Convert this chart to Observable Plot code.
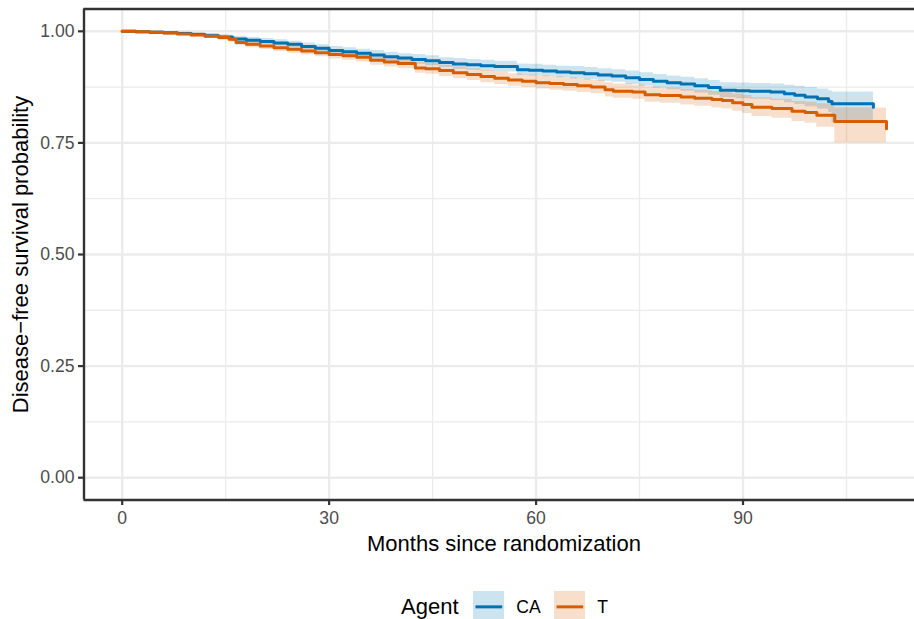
<!DOCTYPE html>
<html><head><meta charset="utf-8">
<script src="https://cdn.jsdelivr.net/npm/d3@7"></script>
<script src="https://cdn.jsdelivr.net/npm/@observablehq/plot@0.6"></script>
<style>
body{margin:0;background:#fff;overflow:hidden}
#wrap{position:relative;width:914px;height:619px;overflow:hidden;background:#fff;font-family:"Liberation Sans",Arial,sans-serif}
#legend{position:absolute;left:401px;top:591px;display:flex;align-items:center;height:32px;white-space:nowrap}
#legend .ttl{font-size:22px;color:#000;margin-right:14px}
#legend .lab{font-size:17.6px;color:#000;margin-left:12px;margin-right:13px}
#legend svg{display:block}
</style></head><body><div id="wrap"><div id="chart"></div><div id="legend"></div></div>
<script>
const agents = ["CA", "T"];
const agentColors = ["#0072B2", "#D55E00"];
const xTicks = [0, 30, 60, 90];
const xMinor = [15, 45, 75, 105];
const yTicks = [0, 0.25, 0.5, 0.75, 1];
const yMinor = [0.125, 0.375, 0.625, 0.875];

// CA group (Kaplan-Meier steps)
const caTime  = [0,2,4,6,8,10,12,14,16,18,20,22,24,26,28,30,32,34,36,38,40,42,44,46,48,50,52,54,57.3,59,61,63,65,67,69,71,73,75,77,79,81,83,85,86.7,89,91,94,96,97.5,99,100.8,102.4,102.9,108.9];
const caSurv  = [1.000,0.999,0.998,0.997,0.995,0.993,0.990,0.987,0.983,0.980,0.977,0.974,0.971,0.966,0.962,0.957,0.954,0.951,0.947,0.943,0.940,0.937,0.934,0.930,0.927,0.925,0.923,0.921,0.914,0.913,0.911,0.909,0.907,0.905,0.902,0.900,0.896,0.892,0.888,0.885,0.882,0.878,0.874,0.868,0.867,0.866,0.864,0.860,0.857,0.853,0.849,0.843,0.838,0.830];
const caLower = [1.000,0.998,0.996,0.994,0.992,0.989,0.986,0.982,0.978,0.974,0.971,0.967,0.964,0.958,0.954,0.949,0.945,0.942,0.937,0.933,0.930,0.926,0.923,0.919,0.915,0.913,0.911,0.909,0.901,0.900,0.898,0.896,0.893,0.891,0.888,0.886,0.881,0.877,0.873,0.869,0.866,0.862,0.857,0.851,0.849,0.848,0.845,0.840,0.836,0.831,0.826,0.818,0.795,0.795];
const caUpper = [1.000,1.000,1.000,0.999,0.998,0.997,0.995,0.992,0.989,0.986,0.984,0.981,0.978,0.974,0.970,0.966,0.963,0.960,0.957,0.953,0.950,0.948,0.945,0.941,0.939,0.937,0.935,0.933,0.927,0.926,0.924,0.922,0.921,0.919,0.916,0.914,0.911,0.907,0.903,0.900,0.897,0.894,0.890,0.885,0.884,0.883,0.882,0.879,0.877,0.874,0.871,0.867,0.864,0.864];

// T group
const tTime  = [0,2,4,6,8,10,12,14,15.5,16.5,18,20,22,24,26,28,30,32,34,36,38,40,42.5,44,46,48,50,52,54,56,58,60,62,64,66,68,70,71.2,74,75.8,78,81,83,85.5,87,88.5,90,91.3,94.2,97.1,99,100.7,103.3,110.8];
const tSurv  = [1.000,0.999,0.998,0.996,0.994,0.992,0.989,0.986,0.982,0.975,0.971,0.967,0.963,0.960,0.956,0.952,0.948,0.945,0.942,0.935,0.931,0.928,0.918,0.916,0.912,0.907,0.903,0.899,0.895,0.891,0.888,0.885,0.883,0.881,0.878,0.875,0.869,0.866,0.864,0.858,0.856,0.853,0.850,0.847,0.845,0.840,0.836,0.830,0.827,0.821,0.818,0.812,0.798,0.782];
const tLower = [1.000,0.998,0.996,0.993,0.990,0.988,0.984,0.980,0.976,0.968,0.963,0.959,0.955,0.951,0.947,0.943,0.938,0.935,0.931,0.924,0.920,0.916,0.906,0.904,0.899,0.894,0.890,0.885,0.881,0.877,0.874,0.871,0.868,0.866,0.863,0.860,0.853,0.850,0.848,0.841,0.839,0.835,0.832,0.828,0.826,0.821,0.816,0.809,0.805,0.798,0.794,0.785,0.750,0.736];
const tUpper = [1.000,1.000,1.000,0.999,0.998,0.996,0.994,0.992,0.988,0.982,0.978,0.975,0.971,0.969,0.965,0.962,0.958,0.955,0.952,0.946,0.942,0.939,0.930,0.928,0.924,0.920,0.916,0.912,0.909,0.905,0.902,0.900,0.898,0.896,0.893,0.890,0.885,0.882,0.880,0.875,0.873,0.870,0.868,0.865,0.863,0.859,0.856,0.851,0.848,0.843,0.841,0.838,0.828,0.828];

const rows = [];
caTime.forEach((t, i) => rows.push({agent: "CA", time: t, surv: caSurv[i], lower: caLower[i], upper: caUpper[i]}));
tTime.forEach((t, i) => rows.push({agent: "T", time: t, surv: tSurv[i], lower: tLower[i], upper: tUpper[i]}));

const xDomain = [-5.535, 116.235];
const yDomain = [-0.05, 1.05];
const font = '"Liberation Sans", Arial, sans-serif';

const chart = Plot.plot({
  width: 914,
  height: 586,
  marginLeft: 83.5,
  marginRight: -9.5,
  marginTop: 8.5,
  marginBottom: 86.5,
  style: {fontFamily: font, fontSize: "17.6px", background: "white", overflow: "hidden"},
  x: {domain: xDomain},
  y: {domain: yDomain},
  color: {domain: agents, range: agentColors},
  marks: [
    Plot.gridX(xMinor, {stroke: "#EBEBEB", strokeOpacity: 1, strokeWidth: 1.3}),
    Plot.gridY(yMinor, {stroke: "#EBEBEB", strokeOpacity: 1, strokeWidth: 1.3}),
    Plot.gridX(xTicks, {stroke: "#EBEBEB", strokeOpacity: 1, strokeWidth: 2.4}),
    Plot.gridY(yTicks, {stroke: "#EBEBEB", strokeOpacity: 1, strokeWidth: 2.4}),
    Plot.areaY(rows, {x: "time", y1: "lower", y2: "upper", z: "agent", fill: "agent", fillOpacity: 0.2, curve: "step-after"}),
    Plot.line(rows, {x: "time", y: "surv", z: "agent", stroke: "agent", strokeWidth: 3, curve: "step-after"}),
    Plot.ruleX([xDomain[0]], {stroke: "#333333", strokeWidth: 2.4}),
    Plot.ruleY(yDomain, {stroke: "#333333", strokeWidth: 2.4}),
    Plot.axisX(xTicks, {tickSize: 5.5, tickPadding: 6, stroke: "#333333", strokeWidth: 2.2, fill: "#4D4D4D", fontSize: 17.6, label: null}),
    Plot.axisY(yTicks, {tickSize: 5.5, tickPadding: 4, stroke: "#333333", strokeWidth: 2.2, fill: "#4D4D4D", fontSize: 17.6, tickFormat: d3.format(".2f"), label: null}),
    Plot.text(["Months since randomization"], {frameAnchor: "bottom", dy: 43.5, lineAnchor: "middle", textAnchor: "middle", fontSize: 22, fill: "#000"}),
    Plot.text(["Disease\u2212free survival probability"], {frameAnchor: "left", dx: -63.5, rotate: -90, textAnchor: "middle", lineAnchor: "middle", fontSize: 22, fill: "#000"})
  ]
});
document.getElementById("chart").appendChild(chart);

// legend below the plot
const legend = document.getElementById("legend");
const ttl = document.createElement("span");
ttl.className = "ttl"; ttl.textContent = "Agent";
legend.appendChild(ttl);
agents.forEach((a, i) => {
  const ns = "http://www.w3.org/2000/svg";
  const s = document.createElementNS(ns, "svg");
  s.setAttribute("width", 31.7); s.setAttribute("height", 31.7);
  const r = document.createElementNS(ns, "rect");
  r.setAttribute("width", 31.7); r.setAttribute("height", 31.7);
  r.setAttribute("fill", agentColors[i]); r.setAttribute("fill-opacity", 0.2);
  s.appendChild(r);
  const l = document.createElementNS(ns, "line");
  l.setAttribute("x1", 2.5); l.setAttribute("x2", 29.2);
  l.setAttribute("y1", 15.85); l.setAttribute("y2", 15.85);
  l.setAttribute("stroke", agentColors[i]); l.setAttribute("stroke-width", 3);
  s.appendChild(l);
  legend.appendChild(s);
  const lab = document.createElement("span");
  lab.className = "lab"; lab.textContent = a;
  legend.appendChild(lab);
});
</script></body></html>
